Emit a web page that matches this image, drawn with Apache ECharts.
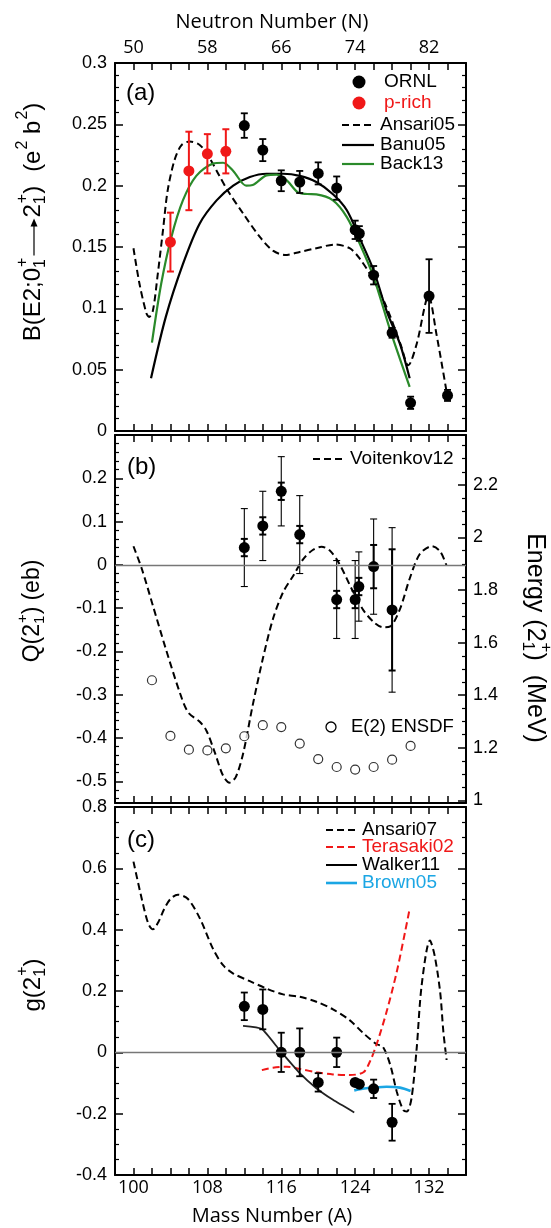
<!DOCTYPE html>
<html>
<head>
<meta charset="utf-8">
<script src="https://cdn.jsdelivr.net/npm/echarts@6/dist/echarts.min.js"></script>
<style>
  html, body { margin: 0; padding: 0; background: #fff; }
  #chart { width: 551px; height: 1228px; }
</style>
</head>
<body>
<div id="chart"></div>
<script>
// ---- panel (a): B(E2) ----
const ornlA   = [112, 114, 116, 118, 120, 122, 124, 124.45, 126, 128, 130, 132, 134];
const ornlB   = [0.249, 0.229, 0.204, 0.203, 0.210, 0.198, 0.164, 0.161, 0.127, 0.080, 0.023, 0.110, 0.029];
const ornlErr = [0.010, 0.009, 0.0085, 0.009, 0.009, 0.0095, 0.0075, 0.006, 0.0075, 0.004, 0.005, 0.030, 0.0045];
const prichA   = [104, 106, 108, 110];
const prichB   = [0.154, 0.212, 0.226, 0.228];
const prichErr = [0.024, 0.032, 0.016, 0.018];
const ansari05 = [[100,0.149],[100.65,0.12],[101.4,0.096],[101.7,0.093],[102.1,0.098],[102.6,0.126],[103.2,0.164],[103.7,0.196],[104.45,0.221],[105.2,0.233],[106.1,0.236],[107.2,0.233],[108.2,0.223],[109.3,0.208],[110.2,0.196],[111.9,0.177],[113.7,0.158],[115.1,0.147],[116.4,0.1435],[118,0.146],[119.8,0.149],[121.8,0.152],[123.4,0.149],[124.5,0.1405],[126,0.123],[127.4,0.101],[128.9,0.071],[129.75,0.0535],[130.66,0.071],[131.95,0.11],[132.8,0.079],[133.9,0.032]];
const banu05 = [[101.9,0.043],[103.5,0.093],[105.35,0.136],[107.16,0.169],[109,0.188],[110.8,0.200],[112.6,0.207],[114.4,0.2097],[116.2,0.2097],[118,0.208],[119.8,0.203],[121.6,0.193],[123.1,0.180],[124.5,0.157],[126,0.131],[127.4,0.098],[128.85,0.071],[129.9,0.043]];
const back13 = [[102,0.072],[103,0.120],[104.1,0.158],[105.35,0.188],[106.8,0.208],[108.6,0.218],[109.7,0.2187],[110.8,0.212],[112.2,0.2],[112.9,0.2005],[114.4,0.2084],[115.5,0.209],[116.6,0.2043],[117.8,0.1945],[118.8,0.1932],[119.8,0.1929],[121.6,0.188],[123.1,0.1744],[124.5,0.1527],[126,0.1255],[127.8,0.082],[129.9,0.036]];

// ---- panel (b): Q and E(2+) ----
const qA      = [112, 114, 116, 118, 122, 124, 124.4, 126, 128];
const qVal    = [0.040, 0.090, 0.170, 0.070, -0.080, -0.080, -0.050, -0.004, -0.104];
const qErrIn  = [0.02, 0.02, 0.02, 0.02, 0.02, 0.02, 0.02, 0.05, 0.14];
const qErrOut = [0.09, 0.08, 0.08, 0.09, 0.09, 0.09, 0.08, 0.11, 0.19];
const voit12 = [[100,0.043],[100.9,-0.009],[102.1,-0.094],[103.5,-0.194],[105,-0.294],[105.9,-0.34],[107.2,-0.363],[107.9,-0.383],[108.8,-0.433],[109.7,-0.487],[110.4,-0.503],[111.1,-0.489],[111.9,-0.433],[112.9,-0.325],[114,-0.217],[115.1,-0.125],[116.2,-0.063],[117.3,-0.025],[118.4,0.014],[119.45,0.035],[120.35,0.042],[121.26,0.033],[122.3,0.002],[123.8,-0.063],[124.9,-0.105],[126,-0.132],[127,-0.144],[127.8,-0.142],[128.85,-0.102],[129.9,-0.032],[131,0.025],[132.3,0.043],[133.2,0.031],[133.9,-0.002]];
const ensdfA = [102, 104, 106, 108, 110, 112, 114, 116, 118, 120, 122, 124, 126, 128, 130];
const ensdfE = [1.457, 1.245, 1.193, 1.190, 1.198, 1.244, 1.286, 1.279, 1.216, 1.157, 1.127, 1.117, 1.127, 1.155, 1.207];

// ---- panel (c): g factor ----
const gA   = [112, 114, 116, 118, 120, 122, 124, 124.45, 126, 128];
const gVal = [0.150, 0.140, 0, 0, -0.098, 0, -0.098, -0.104, -0.119, -0.228];
const gErr = [0.045, 0.065, 0.064, 0.078, 0.030, 0.048, 0.008, 0.008, 0.030, 0.060];
const ansari07 = [[100,0.622],[100.9,0.5],[101.6,0.42],[102.1,0.401],[102.7,0.425],[103.3,0.466],[104,0.5],[104.8,0.514],[105.9,0.5],[107.2,0.436],[108.6,0.338],[109.7,0.284],[110.8,0.257],[112.6,0.232],[114.4,0.208],[116.2,0.189],[118,0.181],[119.8,0.165],[121.6,0.14],[123.4,0.105],[124.9,0.062],[126.3,0.027],[127,0.018],[127.8,-0.041],[128.5,-0.128],[129.2,-0.188],[129.6,-0.193],[130.1,-0.15],[130.66,0.013],[131.2,0.219],[132.1,0.365],[132.6,0.316],[133.2,0.197],[133.55,0.067],[133.9,-0.025]];
const terasaki02 = [[113.9,-0.058],[115.1,-0.05],[116.6,-0.047],[118,-0.054],[119.8,-0.065],[121.6,-0.072],[123.4,-0.074],[124.9,-0.065],[125.6,-0.03],[126.3,0.024],[127.4,0.132],[128.5,0.262],[129.4,0.392],[129.9,0.468]];
const walker11 = [[111.86,0.086],[113.9,0.076],[115.8,0.008],[118,-0.068],[119.8,-0.117],[121.6,-0.155],[123.9,-0.196]];
const brown05 = [[123.9,-0.124],[125.2,-0.117],[127.4,-0.112],[128.85,-0.115],[130,-0.126]];

// tick label positions
const massTicks = [100, 108, 116, 124, 132];
const qTicks = [-0.5, -0.4, -0.3, -0.2, -0.1, 0, 0.1, 0.2];
const eTicks = [1, 1.2, 1.4, 1.6, 1.8, 2, 2.2];

const RED = '#f01818', GREEN = '#2a8a2a', CYAN = '#1ba6e4';
const SANS = '"Liberation Sans", Arial, sans-serif';
const MYR = '"Open Sans", sans-serif';

const chart = echarts.init(document.getElementById('chart'), null, { renderer: 'canvas' });

function xAx(grid, pos, labels) {
  return {
    type: 'value', gridIndex: grid, position: pos, min: 98, max: 136, interval: 2,
    axisLine: { show: true, onZero: false, lineStyle: { color: '#000', width: 2 } },
    axisTick: { show: true, inside: true, length: 7, lineStyle: { color: '#000', width: 1.5 } },
    axisLabel: labels ? {
      show: true, margin: pos === 'top' ? 6 : 4, fontSize: 18, fontFamily: MYR, color: '#000',
      formatter: v => massTicks.indexOf(v) >= 0 ? String(labels === 'N' ? v - 50 : v) : ''
    } : { show: false },
    splitLine: { show: false }
  };
}

function yAx(grid, pos, o) {
  return Object.assign({
    type: 'value', gridIndex: grid, position: pos,
    axisLine: { show: true, onZero: false, lineStyle: { color: '#000', width: 2 } },
    axisTick: { show: true, inside: true, length: 8, lineStyle: { color: '#000', width: 1.5 } },
    minorTick: { show: false },
    axisLabel: { show: false },
    splitLine: { show: false }
  }, o);
}
const lab = (side) => ({ show: true, margin: side === 'right' ? 7 : 8, fontSize: 18, fontFamily: SANS, color: '#000' });
const minorT = (n) => ({ show: true, splitNumber: n, length: 4, lineStyle: { color: '#000', width: 1.2 } });

function errBars(name, xi, yi, xs, ys, es, color, width, cap, z) {
  return {
    type: 'custom', name: name, xAxisIndex: xi, yAxisIndex: yi, z: z || 3, silent: true,
    data: xs.map((a, i) => [a, ys[i] - es[i], ys[i] + es[i]]),
    encode: { x: 0, y: [1, 2] },
    renderItem(params, api) {
      const x = api.value(0);
      const p = api.coord([x, api.value(2)]), q = api.coord([x, api.value(1)]);
      const st = { stroke: color, lineWidth: width };
      return { type: 'group', children: [
        { type: 'line', shape: { x1: p[0], y1: p[1], x2: q[0], y2: q[1] }, style: st },
        { type: 'line', shape: { x1: p[0] - cap, y1: p[1], x2: p[0] + cap, y2: p[1] }, style: st },
        { type: 'line', shape: { x1: q[0] - cap, y1: q[1], x2: q[0] + cap, y2: q[1] }, style: st }
      ] };
    }
  };
}
function dots(name, xi, yi, xs, ys, color, size) {
  return { type: 'scatter', name: name, xAxisIndex: xi, yAxisIndex: yi, z: 4, symbol: 'circle', symbolSize: size || 11,
    itemStyle: { color: color, opacity: 1 }, data: xs.map((a, i) => [a, ys[i]]) };
}
function curve(name, xi, yi, data, color, width, dashed, smooth) {
  return { type: 'line', name: name, xAxisIndex: xi, yAxisIndex: yi, z: 2, data: data,
    showSymbol: false, symbol: 'none', smooth: smooth === undefined ? 0.3 : smooth,
    lineStyle: { color: color, width: width, type: dashed ? [7, 4] : 'solid' } };
}
const zeroLine = { silent: true, symbol: 'none', label: { show: false },
  lineStyle: { color: '#777', width: 1.3, type: 'solid' }, data: [{ yAxis: 0 }] };

// math-style titles with stacked sub/superscripts
const mctx = document.createElement('canvas').getContext('2d');
function tw(t, s) { mctx.font = s + 'px "Liberation Sans"'; return mctx.measureText(t).width; }
function mathTitle(tokens, size, cx, cy, rot) {
  const kids = [];
  let x = 0;
  const ss = Math.round(size * 0.66);
  tokens.forEach(tok => {
    if (typeof tok === 'string') {
      kids.push({ type: 'text', x: x, y: 0, style: { text: tok, fontSize: size, fontFamily: SANS, fill: '#000', verticalAlign: 'middle' } });
      x += tw(tok, size);
    } else if (tok.gap) {
      x += tok.gap;
    } else if (tok.arrow) {
      const L = tok.arrow;
      kids.push({ type: 'line', shape: { x1: x + 2, y1: 1, x2: x + L - 4, y2: 1 }, style: { stroke: '#000', lineWidth: 1.2 } });
      kids.push({ type: 'polygon', shape: { points: [[x + L - 1, 1], [x + L - 9, -2.5], [x + L - 9, 4.5]] }, style: { fill: '#000' } });
      x += L;
    } else {
      let w = 0;
      if (tok.sup) { kids.push({ type: 'text', x: x + 1, y: -size * 0.42, style: { text: tok.sup, fontSize: ss, fontFamily: SANS, fill: '#000', verticalAlign: 'middle' } }); w = Math.max(w, tw(tok.sup, ss) + 1); }
      if (tok.sub) { kids.push({ type: 'text', x: x, y: size * 0.3, style: { text: tok.sub, fontSize: ss, fontFamily: SANS, fill: '#000', verticalAlign: 'middle' } }); w = Math.max(w, tw(tok.sub, ss)); }
      x += w + (tok.after || 0);
    }
  });
  kids.forEach(k => { if (k.type === 'text') k.x -= x / 2; else if (k.type === 'line') { k.shape.x1 -= x / 2; k.shape.x2 -= x / 2; } else k.shape.points = k.shape.points.map(p => [p[0] - x / 2, p[1]]); });
  return { type: 'group', x: cx, y: cy, rotation: rot, children: kids };
}
function txt(t, x, y, size, color, font, align) {
  return { type: 'text', x: x, y: y, style: { text: t, fontSize: size, fontFamily: font || SANS, fill: color || '#000', align: align || 'left', verticalAlign: 'middle' } };
}
function legLine(x1, x2, y, color, width, dashed) {
  return { type: 'line', shape: { x1: x1, y1: y, x2: x2, y2: y }, style: { stroke: color, lineWidth: width, lineDash: dashed ? [7, 4] : null } };
}

const option = {
  backgroundColor: '#fff',
  animation: false,
  grid: [
    { left: 115, top: 63, width: 351, height: 368, outerBoundsMode: 'none' },
    { left: 115, top: 435, width: 351, height: 368, outerBoundsMode: 'none' },
    { left: 115, top: 807, width: 351, height: 368, outerBoundsMode: 'none' }
  ],
  xAxis: [
    xAx(0, 'bottom', null), xAx(0, 'top', 'N'),
    xAx(1, 'bottom', null), xAx(1, 'top', null),
    xAx(2, 'bottom', 'A'), xAx(2, 'top', null)
  ],
  yAxis: [
    yAx(0, 'left', { min: 0, max: 0.3, interval: 0.05, minorTick: minorT(5), axisLabel: lab('left') }),
    yAx(0, 'right', { min: 0, max: 0.3, interval: 0.05, minorTick: minorT(5) }),
    yAx(1, 'left', { min: -0.55, max: 0.3,
      axisTick: { show: true, inside: true, length: 8, customValues: qTicks, lineStyle: { color: '#000', width: 1.5 } },
      axisLabel: Object.assign(lab('left'), { customValues: qTicks }) }),
    yAx(1, 'left', { min: -0.55, max: 0.3, axisLine: { show: false },
      axisTick: { show: true, inside: true, length: 4, customValues: qTicks.slice(0, 1).concat([]).length ? [-0.54,-0.52,-0.48,-0.46,-0.44,-0.42,-0.38,-0.36,-0.34,-0.32,-0.28,-0.26,-0.24,-0.22,-0.18,-0.16,-0.14,-0.12,-0.08,-0.06,-0.04,-0.02,0.02,0.04,0.06,0.08,0.12,0.14,0.16,0.18,0.22,0.24,0.26,0.28] : [], lineStyle: { color: '#000', width: 1.2 } } }),
    yAx(1, 'right', { min: 0.99, max: 2.39,
      axisTick: { show: true, inside: true, length: 8, customValues: eTicks, lineStyle: { color: '#000', width: 1.5 } },
      axisLabel: Object.assign(lab('right'), { customValues: eTicks }) }),
    yAx(1, 'right', { min: 0.99, max: 2.39, axisLine: { show: false },
      axisTick: { show: true, inside: true, length: 4, customValues: [1.05,1.1,1.15,1.25,1.3,1.35,1.45,1.5,1.55,1.65,1.7,1.75,1.85,1.9,1.95,2.05,2.1,2.15,2.25,2.3,2.35], lineStyle: { color: '#000', width: 1.2 } } }),
    yAx(2, 'left', { min: -0.4, max: 0.8, interval: 0.2, minorTick: minorT(4), axisLabel: lab('left') }),
    yAx(2, 'right', { min: -0.4, max: 0.8, interval: 0.2, minorTick: minorT(4) })
  ],
  series: [
    // (a)
    curve('Ansari05', 0, 0, ansari05, '#000', 2, true),
    curve('Banu05', 0, 0, banu05, '#000', 2.2, false),
    curve('Back13', 0, 0, back13, GREEN, 2.2, false),
    errBars('ORNL err', 0, 0, ornlA, ornlB, ornlErr, '#000', 1.8, 3.5),
    dots('ORNL', 0, 0, ornlA, ornlB, '#000', 11),
    errBars('p-rich err', 0, 0, prichA, prichB, prichErr, RED, 2, 3.5),
    dots('p-rich', 0, 0, prichA, prichB, RED, 11),
    // (b)
    Object.assign(curve('Voitenkov12', 2, 2, voit12, '#000', 2, true), { markLine: zeroLine }),
    errBars('Q outer', 2, 2, qA, qVal, qErrOut, '#000', 1.1, 3.5),
    errBars('Q inner', 2, 2, qA, qVal, qErrIn, '#000', 2, 3.5),
    dots('Q', 2, 2, qA, qVal, '#000', 11),
    { type: 'scatter', name: 'E(2) ENSDF', xAxisIndex: 2, yAxisIndex: 4, z: 4, symbol: 'circle', symbolSize: 9,
      itemStyle: { color: '#fff', borderColor: '#000', borderWidth: 1.2 }, data: ensdfA.map((a, i) => [a, ensdfE[i]]) },
    // (c)
    Object.assign(curve('Ansari07', 4, 6, ansari07, '#000', 2, true), { markLine: zeroLine }),
    curve('Terasaki02', 4, 6, terasaki02, RED, 2, true),
    curve('Walker11', 4, 6, walker11, '#222', 1.8, false, 0.15),
    curve('Brown05', 4, 6, brown05, CYAN, 2.6, false),
    errBars('g err', 4, 6, gA, gVal, gErr, '#000', 1.8, 3.5),
    dots('g', 4, 6, gA, gVal, '#000', 11)
  ],
  graphic: [
    txt('Neutron Number (N)', 272, 22, 20, '#000', MYR, 'center'),
    txt('Mass Number (A)', 272, 1216, 20, '#000', MYR, 'center'),
    txt('(a)', 126, 93, 24), txt('(b)', 127, 467, 24), txt('(c)', 127, 840, 24),
    // legend (a)
    { type: 'circle', shape: { cx: 359, cy: 82, r: 6.5 }, style: { fill: '#000' } },
    txt('ORNL', 384, 82, 19),
    { type: 'circle', shape: { cx: 359, cy: 103, r: 6.5 }, style: { fill: RED } },
    txt('p-rich', 384, 103, 19, RED),
    legLine(342, 374, 125, '#000', 2, true), txt('Ansari05', 380, 125, 19),
    legLine(342, 374, 145, '#000', 2.2, false), txt('Banu05', 380, 145, 19),
    legLine(342, 374, 164, GREEN, 2.2, false), txt('Back13', 380, 164, 19),
    // legend (b)
    legLine(313, 346, 459, '#000', 2, true), txt('Voitenkov12', 350, 459, 19),
    { type: 'circle', shape: { cx: 331, cy: 727, r: 5 }, style: { fill: '#fff', stroke: '#000', lineWidth: 1.3 } },
    txt('E(2) ENSDF', 351, 727, 18.5),
    // legend (c)
    legLine(326, 357, 830, '#000', 2, true), txt('Ansari07', 362, 830, 19),
    legLine(326, 357, 847, RED, 2, true), txt('Terasaki02', 362, 847, 19, RED),
    legLine(326, 357, 865, '#000', 2, false), txt('Walker11', 362, 865, 19),
    legLine(326, 357, 883, CYAN, 2.6, false), txt('Brown05', 362, 883, 19, CYAN),
    // axis titles
    mathTitle(['B(E2;0', { sup: '+', sub: '1' }, { arrow: 40 }, '2', { sup: '+', sub: '1' }, ')', { gap: 14 }, '(e', { sup: '2' }, ' b', { sup: '2' }, ')'], 24, 33, 222, Math.PI / 2),
    mathTitle(['Q(2', { sup: '+', sub: '1' }, ')', { gap: 6 }, '(eb)'], 23, 33, 611, Math.PI / 2),
    mathTitle(['Energy (2', { sup: '+', sub: '1' }, ')', { gap: 14 }, '(MeV)'], 25, 535, 638, -Math.PI / 2),
    mathTitle(['g(2', { sup: '+', sub: '1' }, ')'], 24, 33, 985, Math.PI / 2)
  ]
};
chart.setOption(option);
</script>
</body>
</html>
